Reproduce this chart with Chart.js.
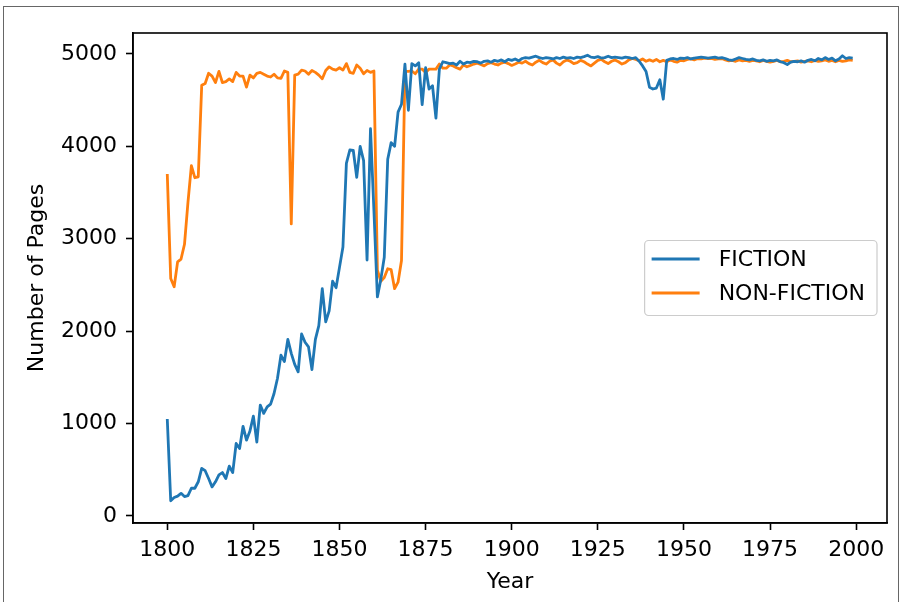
<!DOCTYPE html>
<html>
<head>
<meta charset="utf-8">
<script src="https://cdn.jsdelivr.net/npm/chart.js@4.4.1/dist/chart.umd.min.js"></script>
<style>
  html, body { margin: 0; padding: 0; background: #fff; }
  #wrap { position: relative; width: 901px; height: 602px; }
  #frame { position: absolute; left: 3px; top: 6px; width: 894px; height: 600px;
           border: 1.5px solid #666; border-bottom: none; pointer-events: none; }
</style>
</head>
<body>
<div id="wrap">
  <canvas id="chart" width="901" height="602"></canvas>
  <div id="frame"></div>
</div>
<script>
// Year range of the series (one value per year)
const firstYear = 1800;
const lastYear = 1999;
const years = [];
for (let y = firstYear; y <= lastYear; y++) years.push(y);

// Number of pages per year
const fiction = [
  1050, 165, 200, 215, 245, 210, 220, 300, 300, 370,
  515, 490, 405, 315, 370, 445, 470, 405, 540, 470,
  785, 730, 970, 820, 920, 1080, 800, 1200, 1110, 1180,
  1210, 1325, 1490, 1740, 1670, 1910, 1760, 1640, 1560, 1970,
  1880, 1830, 1585, 1910, 2060, 2460, 2100, 2220, 2540, 2470,
  2690, 2910, 3815, 3960, 3955, 3665, 4000, 3845, 2770, 4190,
  3300, 2370, 2560, 2800, 3860, 4040, 4000, 4370, 4455, 4890,
  4390, 4895, 4870, 4905, 4450, 4850, 4620, 4655, 4305, 4835,
  4915, 4905, 4895, 4900, 4880, 4920, 4890, 4910, 4905, 4920,
  4915, 4900, 4920, 4925, 4910, 4930, 4920, 4935, 4915, 4940,
  4930, 4945, 4925, 4950, 4960, 4955, 4965, 4975, 4960, 4950,
  4960, 4955, 4945, 4960, 4950, 4965, 4955, 4960, 4950, 4965,
  4960, 4970, 4985, 4965, 4960, 4970, 4955, 4960, 4975, 4960,
  4965, 4960, 4955, 4965, 4960, 4950, 4960, 4920, 4870, 4810,
  4640, 4620, 4630, 4720, 4510, 4930, 4945, 4950, 4940, 4955,
  4950, 4960, 4945, 4955, 4960, 4965, 4960, 4955, 4960, 4965,
  4955, 4960, 4950, 4935, 4930, 4945, 4960, 4950, 4940, 4935,
  4945, 4930, 4925, 4935, 4920, 4930, 4925, 4935, 4915, 4905,
  4885, 4910, 4920, 4915, 4925, 4910, 4930, 4940, 4925, 4950,
  4935, 4960, 4940, 4955, 4925, 4945, 4980, 4950, 4960, 4955
];

const nonFiction = [
  3700, 2570, 2480, 2750, 2780, 2940, 3390, 3790, 3660, 3670,
  4660, 4680, 4790, 4760, 4690, 4810, 4690, 4700, 4730, 4700,
  4800, 4760, 4760, 4640, 4770, 4740, 4790, 4800, 4780, 4760,
  4750, 4780, 4740, 4735, 4815, 4800, 3160, 4770, 4780, 4825,
  4815, 4780, 4820, 4800, 4770, 4730, 4820, 4860, 4835, 4825,
  4850, 4825, 4895, 4800, 4790, 4880, 4845, 4785, 4820, 4800,
  4815, 2660, 2540, 2580, 2675, 2665, 2460, 2530, 2765, 4810,
  4810, 4815, 4785, 4835, 4835, 4800, 4835, 4835, 4835, 4890,
  4845, 4845, 4880, 4870, 4850, 4835, 4880, 4860, 4875, 4890,
  4900, 4885, 4870, 4895, 4905, 4890, 4880, 4900, 4910, 4895,
  4875, 4890, 4910, 4900, 4920, 4895, 4880, 4910, 4930, 4905,
  4890, 4920, 4935, 4900, 4880, 4915, 4935, 4920, 4895, 4905,
  4930, 4915, 4890, 4870, 4900, 4930, 4940, 4915, 4895, 4920,
  4935, 4915, 4890, 4905, 4935, 4950, 4940, 4925, 4945, 4920,
  4935, 4920, 4940, 4915, 4930, 4915, 4935, 4920, 4910, 4930,
  4925, 4940, 4945, 4935, 4950, 4945, 4955, 4950, 4950, 4940,
  4945, 4950, 4935, 4925, 4930, 4920, 4935, 4925, 4930, 4920,
  4930, 4925, 4915, 4930, 4920, 4910, 4920, 4930, 4915, 4920,
  4930, 4915, 4920, 4925, 4910, 4920, 4925, 4915, 4930, 4920,
  4925, 4935, 4920, 4930, 4915, 4930, 4920, 4925, 4935, 4930
];

const xTicks = [1800, 1825, 1850, 1875, 1900, 1925, 1950, 1975, 2000];
const yTicks = [0, 1000, 2000, 3000, 4000, 5000];

// matplotlib style 5% margins around the data
const xPad = (lastYear - firstYear) * 0.05;
const allVals = fiction.concat(nonFiction);
const yMinData = Math.min(...allVals);
const yMaxData = Math.max(...allVals);
const yPad = (yMaxData - yMinData) * 0.05;

const FONT = "'DejaVu Sans', sans-serif";
Chart.defaults.font.family = FONT;
Chart.defaults.font.size = 22;
Chart.defaults.color = '#000';

// legend box in the middle of the right side, like loc="best" gave
const boxLegend = {
  id: 'boxLegend',
  afterDraw(chart) {
    const ctx = chart.ctx;
    const ca = chart.chartArea;
    const sets = chart.data.datasets;
    ctx.save();
    ctx.font = '22px ' + FONT;
    let textW = 0;
    sets.forEach(ds => { textW = Math.max(textW, ctx.measureText(ds.label).width); });
    const w = 7 + 48 + 19 + textW + 12;
    const h = 75;
    const x = ca.right - 10 - w;
    const y = (ca.top + ca.bottom) / 2 - h / 2;
    ctx.beginPath();
    ctx.roundRect(x, y, w, h, 4);
    ctx.fillStyle = 'rgba(255,255,255,0.8)';
    ctx.fill();
    ctx.strokeStyle = '#cccccc';
    ctx.lineWidth = 1.2;
    ctx.stroke();
    sets.forEach((ds, i) => {
      const cy = y + 18.5 + i * 34;
      ctx.beginPath();
      ctx.moveTo(x + 7, cy);
      ctx.lineTo(x + 55, cy);
      ctx.strokeStyle = ds.borderColor;
      ctx.lineWidth = 3;
      ctx.stroke();
      ctx.fillStyle = '#000';
      ctx.textBaseline = 'middle';
      ctx.fillText(ds.label, x + 74, cy + 1);
    });
    ctx.restore();
  }
};

// top and right spines
const frameBox = {
  id: 'frameBox',
  afterDraw(chart) {
    const ca = chart.chartArea;
    const ctx = chart.ctx;
    ctx.save();
    ctx.strokeStyle = '#000';
    ctx.lineWidth = 1.6;
    ctx.strokeRect(ca.left, ca.top, ca.right - ca.left, ca.bottom - ca.top);
    ctx.restore();
  }
};

const plain = v => String(v);

const ctx = document.getElementById('chart').getContext('2d');
new Chart(ctx, {
  type: 'line',
  data: {
    datasets: [{
      label: 'FICTION',
      data: years.map((yr, i) => ({ x: yr, y: fiction[i] })),
      borderColor: '#1f77b4',
      borderWidth: 2.8,
      pointRadius: 0,
      tension: 0,
      borderJoinStyle: 'round'
    }, {
      label: 'NON-FICTION',
      data: years.map((yr, i) => ({ x: yr, y: nonFiction[i] })),
      borderColor: '#ff7f0e',
      borderWidth: 2.8,
      pointRadius: 0,
      tension: 0,
      borderJoinStyle: 'round'
    }]
  },
  options: {
    responsive: false,
    animation: false,
    layout: { padding: { top: 33, right: 14, left: 0, bottom: 0 } },
    plugins: {
      legend: { display: false },
      tooltip: { enabled: false }
    },
    scales: {
      x: {
        type: 'linear',
        min: firstYear - xPad,
        max: lastYear + xPad,
        afterBuildTicks: s => { s.ticks = xTicks.map(v => ({ value: v })); },
        afterFit: s => { s.height = 79; },
        ticks: { padding: 7, color: '#000', font: { size: 22 }, maxRotation: 0, callback: plain },
        grid: { drawOnChartArea: false, drawTicks: true, tickLength: 7, tickColor: '#000', tickWidth: 1.6, color: '#000' },
        border: { display: true, color: '#000', width: 1.6 },
        title: { display: true, text: 'Year', color: '#000', font: { size: 22 }, padding: { top: 0, bottom: 7 } }
      },
      y: {
        min: yMinData - yPad,
        max: yMaxData + yPad,
        afterBuildTicks: s => { s.ticks = yTicks.map(v => ({ value: v })); },
        afterFit: s => { s.width = 133; },
        ticks: { padding: 9, color: '#000', font: { size: 22 }, callback: plain },
        grid: { drawOnChartArea: false, drawTicks: true, tickLength: 7, tickColor: '#000', tickWidth: 1.6, color: '#000' },
        border: { display: true, color: '#000', width: 1.6 },
        title: { display: true, text: 'Number of Pages', color: '#000', font: { size: 22 }, padding: { top: 24, bottom: 0 } }
      }
    }
  },
  plugins: [boxLegend, frameBox]
});
</script>
</body>
</html>
